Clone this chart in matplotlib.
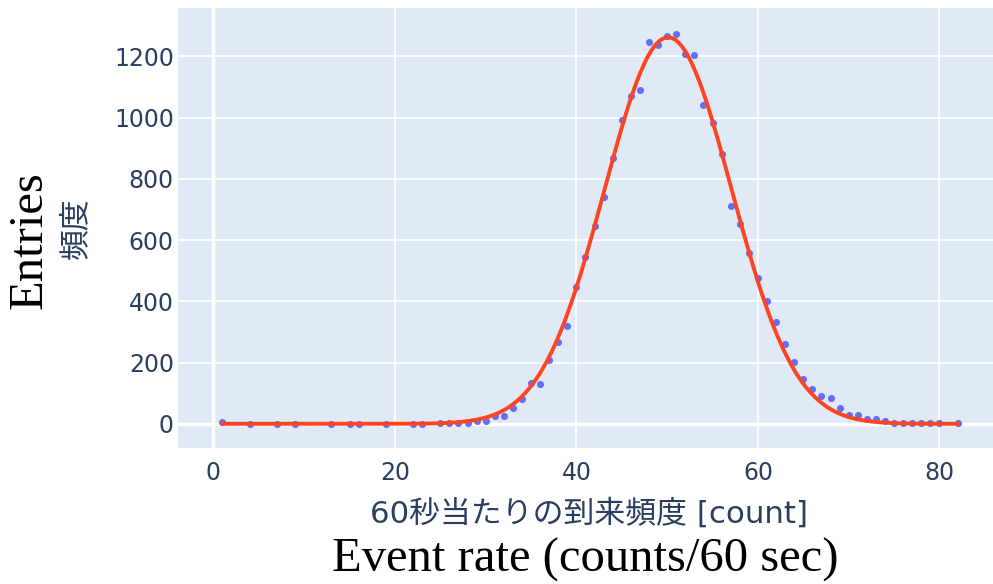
import numpy as np
import matplotlib
matplotlib.use("Agg")
from matplotlib import pyplot as plt

# counts per 60 s bin and number of entries
rate = [1, 4, 7, 9, 13, 15, 16, 19, 22, 23, 25, 26, 27, 28,
        29, 30, 31, 32, 33, 34, 35, 36, 37, 38, 39, 40, 41, 42, 43, 44,
        45, 46, 47, 48, 49, 50, 51, 52, 53, 54, 55, 56, 57, 58, 59, 60,
        61, 62, 63, 64, 65, 66, 67, 68, 69, 70, 71, 72, 73, 74, 75, 76,
        77, 78, 79, 80, 82]
entries = [5, 1, 1, 1, 1, 1, 1, 1, 1, 1, 2, 2, 3, 4,
           8, 10, 26, 26, 51, 81, 133, 131, 207, 266, 318, 447, 545, 647, 741, 868,
           991, 1069, 1089, 1246, 1237, 1268, 1272, 1209, 1206, 1042, 983, 882, 710, 652, 558, 475,
           402, 332, 261, 201, 146, 115, 91, 83, 51, 29, 29, 16, 16, 10, 4, 4,
           3, 4, 4, 4, 2]

# gaussian fit
fit_amp = 1262
fit_mean = 50.1
fit_sigma = 7.0

xticks = [0, 20, 40, 60, 80]
yticks = [0, 200, 400, 600, 800, 1000, 1200]

tick_color = "#2a3f5f"
bg = "#dfeaf6"

fig = plt.figure(figsize=(9.93, 5.84), dpi=100)
ax = fig.add_axes([178 / 993, 1 - 448 / 584, 1 - 178 / 993, 440 / 584])
ax.set_facecolor(bg)

xfit = np.linspace(min(rate), max(rate), 400)
yfit = fit_amp * np.exp(-0.5 * ((xfit - fit_mean) / fit_sigma) ** 2)

ax.scatter(rate, entries, s=26, color="#636efa", zorder=3, linewidths=0)
ax.plot(xfit, yfit, color="#ff4422", lw=2.8, zorder=4)

ax.set_xlim(-3.9, 85.9)
ax.set_ylim(-79, 1358)
ax.set_xticks(xticks)
ax.set_yticks(yticks)
ax.grid(True, color="white", lw=1.2, zorder=1)
ax.set_axisbelow(True)
ax.axhline(0, color="white", lw=2.5, zorder=2)
ax.axvline(0, color="white", lw=2.5, zorder=2)
for s in ax.spines.values():
  s.set_visible(False)
ax.tick_params(length=0, labelsize=17, labelcolor=tick_color)
ax.tick_params(axis="x", pad=9)
ax.tick_params(axis="y", pad=3)

jp = ["DejaVu Sans", "Noto Sans CJK JP"]
fig.text(589 / 993, 1 - 513 / 584, "60秒当たりの到来頻度 [count]", family=jp,
         fontsize=22.2, color=tick_color, ha="center", va="center")
fig.text(76 / 993, 1 - 228 / 584, "頻度", family=jp, fontsize=22.2,
         color=tick_color, ha="center", va="center", rotation=90)

fig.text(585 / 993, 1 - 560 / 584, "Event rate (counts/60 sec)", family="Liberation Serif",
         fontsize=35, color="black", ha="center", va="center")
fig.text(30 / 993, 1 - 240 / 584, "Entries", family="Liberation Serif",
         fontsize=35, color="black", ha="center", va="center", rotation=90)

fig.savefig("out.png", dpi=100, facecolor="white")
